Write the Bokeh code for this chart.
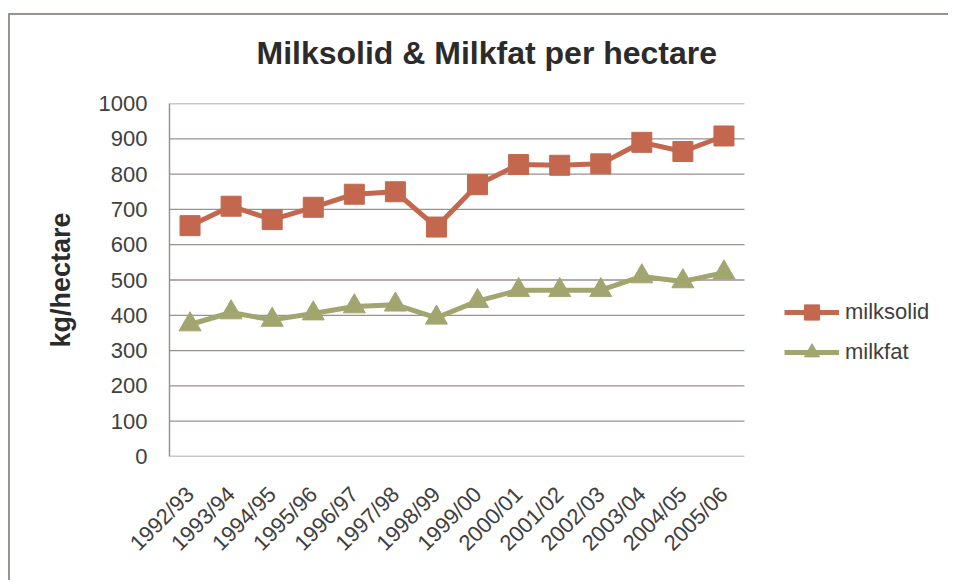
import math
from bokeh.plotting import figure
from bokeh.models import Range1d, FixedTicker, Legend, LegendItem, ColumnDataSource, Title
from bokeh.embed import file_html
from bokeh.resources import INLINE

seasons = ["1992/93", "1993/94", "1994/95", "1995/96", "1996/97", "1997/98", "1998/99",
           "1999/00", "2000/01", "2001/02", "2002/03", "2003/04", "2004/05", "2005/06"]
milksolid = [654, 709, 671, 706, 743, 750, 650, 770, 827, 825, 829, 890, 864, 908]
milkfat = [374, 408, 387, 405, 425, 430, 393, 440, 471, 471, 471, 510, 496, 521]
y_ticks = [0, 100, 200, 300, 400, 500, 600, 700, 800, 900, 1000]

FONT = "Liberation Sans"
GRID = "#9b918e"
TEXT = "#404040"
RED = "#c3684f"
OLIVE = "#a3a56f"

n = len(seasons)
xpos = [i + 0.5 for i in range(n)]
src = ColumnDataSource(dict(x=xpos, season=seasons, milksolid=milksolid, milkfat=milkfat))

FRAME_W = 784
PLOT_W = 575  # width of the category area inside the frame
x_end = n * FRAME_W / PLOT_W

p = figure(frame_width=FRAME_W, frame_height=353, x_range=Range1d(0, x_end), y_range=Range1d(0, 1000),
           output_backend="svg", toolbar_location=None,
           min_border_left=169, min_border_top=103, min_border_bottom=124, min_border_right=1)
# outer chart-area frame (left and top edges visible in the window)
p.styles = {"background": ("linear-gradient(#9b918e, #9b918e) 8px 13px / 100% 2px no-repeat, "
                           "linear-gradient(#9b918e, #9b918e) 8px 13px / 2px 100% no-repeat, white"),
            "clip-path": "inset(0px 6px 0px 0px)"}
p.outline_line_color = None
p.background_fill_color = "white"
p.border_fill_alpha = 0

t = Title(text="Milksolid & Milkfat per hectare", align="left", offset=87, standoff=65,
          text_font=FONT, text_font_size="32px", text_font_style="bold", text_color="#2b2b2b")
p.add_layout(t, "above")
p.title.visible = False

p.yaxis.ticker = FixedTicker(ticks=y_ticks)
p.xaxis.ticker = FixedTicker(ticks=xpos)
p.xaxis.major_label_overrides = {x: s for x, s in zip(xpos, seasons)}
p.yaxis.axis_label = "kg/hectare"
p.yaxis.axis_label_text_font = FONT
p.yaxis.axis_label_text_font_size = "27px"
p.yaxis.axis_label_text_font_style = "bold"
p.yaxis.axis_label_text_color = "#2b2b2b"
p.yaxis.axis_label_standoff = 20
for ax in (p.xaxis, p.yaxis):
    ax.major_label_text_font = FONT
    ax.major_label_text_font_size = "22px"
    ax.major_label_text_color = TEXT
    ax.axis_line_color = GRID
    ax.axis_line_width = 1.5
    ax.major_tick_line_color = None
    ax.minor_tick_line_color = None
    ax.major_tick_out = 0
    ax.major_tick_in = 0
p.xaxis.axis_line_color = None
p.yaxis.major_label_standoff = 22
p.xaxis.major_label_orientation = math.pi / 4
p.xaxis.major_label_standoff = 34
p.xgrid.visible = False
p.ygrid.visible = False

# horizontal gridlines across the category area only
p.segment(x0=[0] * len(y_ticks), x1=[n] * len(y_ticks), y0=y_ticks, y1=y_ticks,
          line_color=GRID, line_width=1.3)

l1 = p.line("x", "milksolid", source=src, line_color=RED, line_width=5)
s1 = p.scatter("x", "milksolid", source=src, marker="square", size=20, fill_color=RED, line_color=RED)
l2 = p.line("x", "milkfat", source=src, line_color=OLIVE, line_width=5)
s2 = p.scatter("x", "milkfat", source=src, marker="triangle", size=22, fill_color=OLIVE, line_color=OLIVE)

legend = Legend(items=[LegendItem(label="milksolid", renderers=[l1, s1]),
                       LegendItem(label="milkfat", renderers=[l2, s2])],
                location=(615, 85), orientation="vertical")
legend.border_line_color = None
legend.background_fill_alpha = 0
legend.padding = 0
legend.margin = 0
legend.spacing = 2
legend.glyph_width = 55
legend.glyph_height = 38
legend.label_standoff = 6
legend.label_text_font = FONT
legend.label_text_font_size = "22px"
legend.label_text_color = TEXT
p.add_layout(legend, "center")

open("out.html", "w").write(file_html(p, INLINE))
